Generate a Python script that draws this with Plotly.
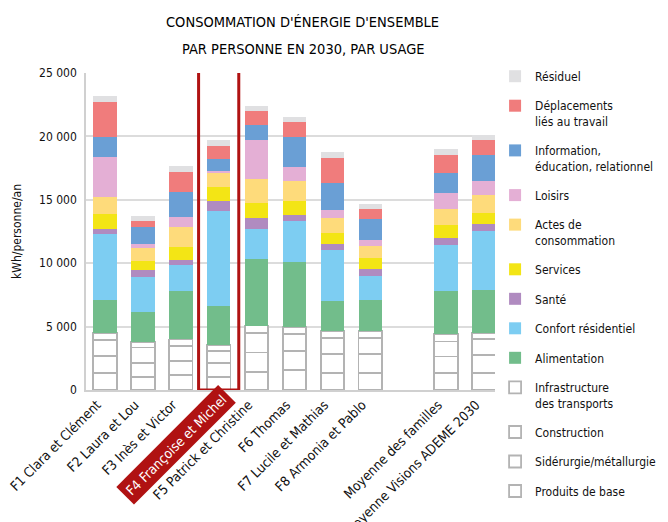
import plotly.graph_objects as go

categories = ["F1 Clara et Clément", "F2 Laura et Lou", "F3 Inès et Victor",
              "F4 Françoise et Michel", "F5 Patrick et Christine", "F6 Thomas",
              "F7 Lucile et Mathias", "F8 Armonia et Pablo", " ",
              "Moyenne des familles", "Moyenne Visions ADEME 2030"]
highlight = "F4 Françoise et Michel"

# kWh/personne/an, bottom to top of each stack
produits_de_base = [1320, 1050, 1180, 1050, 1400, 1580, 1370, 1370, None, 1320, 1370]
siderurgie = [1370, 1050, 1100, 1050, 1550, 1500, 1500, 1450, None, 1320, 1400]
construction = [1260, 1260, 1180, 1000, 1530, 1320, 1210, 1260, None, 1180, 1240]
infrastructure = [530, 450, 530, 420, 600, 550, 550, 580, None, 580, 470]
alimentation = [2630, 2340, 3840, 3100, 5240, 5180, 2420, 2400, None, 3370, 3370]
confort = [5180, 2790, 2030, 7500, 2400, 3210, 4000, 1970, None, 3660, 4660]
sante = [400, 530, 400, 790, 820, 450, 500, 530, None, 530, 600]
services = [1210, 740, 1050, 1080, 1180, 1080, 840, 820, None, 1030, 870]
actes = [1290, 1000, 1530, 1130, 1950, 1580, 1210, 1000, None, 1320, 1370]
loisirs = [3160, 340, 820, 160, 3080, 1130, 600, 470, None, 1240, 1100]
information = [1580, 1320, 1970, 950, 1180, 2340, 2130, 1600, None, 1600, 2100]
deplacements = [2820, 470, 1600, 1030, 1100, 1240, 2000, 840, None, 1420, 1130]
residuel = [400, 400, 400, 470, 400, 400, 450, 400, None, 400, 470]

y_ticks = [0, 5000, 10000, 15000, 20000, 25000]
y_tick_labels = ["0", "5 000", "10 000", "15 000", "20 000", "25 000"]

series = [
    ("Produits de base", produits_de_base, "white"),
    ("Sidérurgie/métallurgie", siderurgie, "white"),
    ("Construction", construction, "white"),
    ("Infrastructure<br>des transports", infrastructure, "white"),
    ("Alimentation", alimentation, "#72bd8b"),
    ("Confort résidentiel", confort, "#7dcdf2"),
    ("Santé", sante, "#b08bc0"),
    ("Services", services, "#f3e515"),
    ("Actes de<br>consommation", actes, "#fedb7b"),
    ("Loisirs", loisirs, "#e4afd5"),
    ("Information,<br>éducation, relationnel", information, "#6a9fd5"),
    ("Déplacements<br>liés au travail", deplacements, "#f07c7c"),
    ("Résiduel", residuel, "#e0e0e2"),
]

FONT = "DejaVu Sans Condensed, Roboto, sans-serif"
TXT = "#111111"
RED = "#b01212"

fig = go.Figure()
for i, (name, vals, col) in enumerate(series):
    white = col == "white"
    fig.add_trace(go.Bar(
        x=categories, y=vals, name=name, legendgroup=str(i),
        legendrank=len(series) - i,
        marker=dict(color=col,
                    line=dict(color="#b3b3b3" if white else col, width=1.8 if white else 0)),
        width=0.62,
    ))

ticktext = ["" if c == highlight else c for c in categories]
hi = categories.index(highlight)

# highlighted household: frame round the bar + label on red
fig.add_shape(type="rect", xref="x", yref="y", x0=hi - 0.53, x1=hi + 0.53,
              y0=0, y1=25500, line=dict(color=RED, width=3))
fig.add_annotation(x=hi + 0.55, y=0, xref="x", yref="y", text=highlight,
                   textangle=-45, xanchor="right", yanchor="top", showarrow=False,
                   xshift=-3, yshift=5, bgcolor=RED, borderpad=4,
                   font=dict(family=FONT, size=13.5, color="white"))

title_lines = ["CONSOMMATION D'ÉNERGIE D'ENSEMBLE", "PAR PERSONNE EN 2030, PAR USAGE"]
for line, yy in zip(title_lines, [1.161, 1.076]):
    fig.add_annotation(x=0.52, y=yy, xref="paper", yref="paper", text=line,
                       showarrow=False, xanchor="center", yanchor="middle",
                       font=dict(family=FONT, size=14.5, color="#000000"))

fig.update_layout(
    width=660, height=514,
    barmode="stack",
    paper_bgcolor="white", plot_bgcolor="white",
    margin=dict(l=78, r=165, t=65, b=132, autoexpand=False),
    font=dict(family=FONT, color=TXT),
    legend=dict(x=0.981, y=1.035, xanchor="left", yanchor="top",
                traceorder="grouped", tracegroupgap=10.5, valign="top",
                maxheight=600,
                font=dict(family=FONT, size=12, color=TXT), itemwidth=30),
    bargap=0.38,
)
fig.update_xaxes(tickvals=categories, ticktext=ticktext, tickangle=-45,
                 tickfont=dict(family=FONT, size=13.5, color=TXT),
                 ticklabelshift=-8,
                 showline=True, linecolor="#d0d0d0", linewidth=1.5, ticks="")
fig.update_yaxes(range=[0, 25000], tickvals=y_ticks, ticktext=y_tick_labels,
                 tickfont=dict(family=FONT, size=12, color=TXT),
                 ticklabelstandoff=5,
                 showgrid=True, gridcolor="#dcdcdc", gridwidth=1.5,
                 showline=True, linecolor="#d0d0d0", linewidth=1.5,
                 title=dict(text="kWh/personne/an", font=dict(family=FONT, size=12)),
                 zeroline=False)

fig.write_html("out.html")
